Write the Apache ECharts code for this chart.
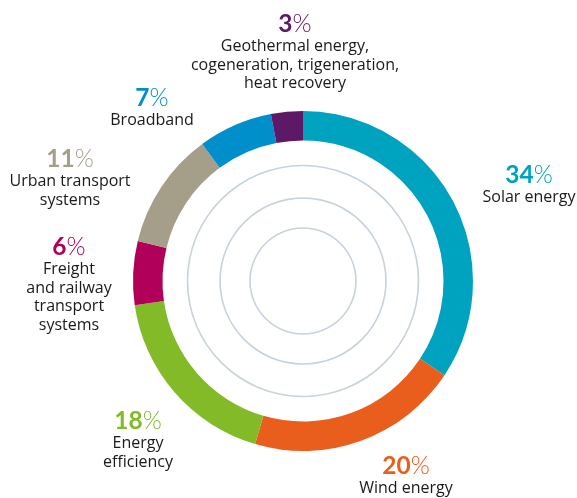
<!DOCTYPE html>
<html>
<head>
<meta charset="utf-8">
<script src="https://cdn.jsdelivr.net/npm/echarts@6/dist/echarts.min.js"></script>
<style>
html,body{margin:0;padding:0;background:#fff;}
#chart{width:577px;height:498px;}
</style>
</head>
<body>
<div id="chart"></div>
<script>
// Data
const categories = [
  'Solar energy',
  'Wind energy',
  'Energy\nefficiency',
  'Freight\nand railway\ntransport\nsystems',
  'Urban transport\nsystems',
  'Broadband',
  'Geothermal energy,\ncogeneration, trigeneration,\nheat recovery'
];
const shares = [34, 20, 18, 6, 11, 7, 3];
const colors = ['#00a3bf', '#e95d1d', '#83bb28', '#b1005a', '#a59e88', '#008fcb', '#5e1966'];

// label anchor (center x, top y of the percentage line)
const labelAnchors = [
  [529, 162], [406, 453], [138, 408], [69, 234], [70, 146], [152, 85], [295, 11]
];

const chart = echarts.init(document.getElementById('chart'), null, {renderer: 'canvas'});

const ringRadii = [53, 83, 115.5];
const decorSeries = ringRadii.map(r => ({
  type: 'pie',
  silent: true,
  center: [303, 281],
  radius: [r - 0.8, r + 0.8],
  label: {show: false},
  labelLine: {show: false},
  itemStyle: {color: '#c7d2df', borderWidth: 0},
  emphasis: {disabled: true},
  data: [{value: 1}]
}));

const rich = {};
colors.forEach((c, i) => {
  rich['n' + i] = {fontFamily: 'Lato', fontWeight: 'bold', fontSize: 24.5, color: c, lineHeight: 26};
  rich['p' + i] = {fontFamily: 'Lato', fontWeight: 300, fontSize: 24.5, color: c, lineHeight: 26};
});
rich.t = {fontFamily: 'Open Sans', fontSize: 16, color: '#1a1a1a', lineHeight: 18.7, align: 'center'};

chart.setOption({
  animation: false,
  backgroundColor: '#ffffff',
  series: [
    ...decorSeries,
    {
      type: 'pie',
      center: [303, 281],
      radius: [140.5, 170],
      startAngle: 90,
      clockwise: true,
      avoidLabelOverlap: false,
      itemStyle: {borderWidth: 0},
      emphasis: {disabled: true},
      labelLine: {show: false},
      label: {
        show: true,
        position: 'outside',
        align: 'center',
        formatter: p => {
          const i = p.dataIndex;
          const lines = categories[i].split('\n').map(s => '{t|' + s + '}').join('\n');
          return '{n' + i + '|' + shares[i] + '}{p' + i + '|%}\n' + lines;
        },
        rich: rich
      },
      labelLayout: params => {
        const a = labelAnchors[params.dataIndex];
        return {x: a[0], y: a[1], align: 'center', verticalAlign: 'top'};
      },
      data: shares.map((v, i) => ({value: v, name: categories[i], itemStyle: {color: colors[i]}}))
    }
  ]
});
</script>
</body>
</html>
